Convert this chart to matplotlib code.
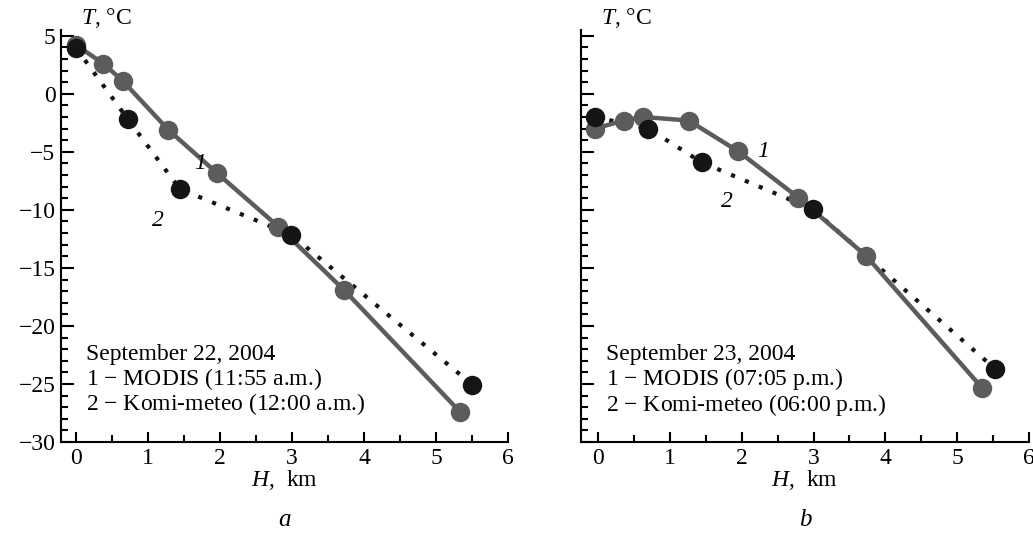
import matplotlib
matplotlib.use('Agg')
import matplotlib.pyplot as plt
from matplotlib.ticker import MultipleLocator

plt.rcParams['font.family'] = ['Liberation Serif', 'DejaVu Serif']
plt.rcParams['mathtext.fontset'] = 'custom'
plt.rcParams['mathtext.rm'] = 'Liberation Serif'
plt.rcParams['mathtext.it'] = 'Liberation Serif:italic'

# panel a: September 22, 2004
h_modis_a = [0.0, 0.38, 0.65, 1.28, 1.96, 2.81, 3.72, 5.33]
t_modis_a = [4.2, 2.6, 1.1, -3.1, -6.85, -11.45, -16.9, -27.4]
h_komi_a = [0.0, 0.72, 1.44, 2.99, 5.5]
t_komi_a = [3.95, -2.2, -8.2, -12.15, -25.05]

# panel b: September 23, 2004
h_modis_b = [-0.05, 0.36, 0.63, 1.26, 1.95, 2.79, 3.73, 5.35]
t_modis_b = [-3.0, -2.3, -2.0, -2.3, -4.95, -8.95, -13.95, -25.35]
h_komi_b = [-0.05, 0.70, 1.44, 2.99, 5.53]
t_komi_b = [-2.0, -3.0, -5.9, -9.95, -23.7]

notes_a = ['September 22, 2004', '$\\mathit{1}$ \u2212 MODIS (11:55 a.m.)',
           '$\\mathit{2}$ \u2212 Komi-meteo (12:00 a.m.)']
notes_b = ['September 23, 2004', '$\\mathit{1}$ \u2212 MODIS (07:05 p.m.)',
           '$\\mathit{2}$ \u2212 Komi-meteo (06:00 p.m.)']

FS = 17
gray = '#5c5c5c'
black = '#151515'

fig = plt.figure(figsize=(10.33, 5.45), dpi=100)
ax_a = fig.add_axes([0.059, 0.189, 0.433, 0.756])
ax_b = fig.add_axes([0.5624, 0.189, 0.4336, 0.756])


def draw(ax, hm, tm, hk, tk, notes, lab1, lab2, letter, xmin, show_y):
    ax.plot(hk, tk, color=black, lw=3, ls=(0, (1, 2.6)), zorder=2)
    ax.plot(hm, tm, color=gray, lw=3.2, zorder=3)
    ax.plot(hm, tm, ls='none', marker='o', ms=13, color=gray, zorder=4)
    ax.plot(hk, tk, ls='none', marker='o', ms=13, color=black, zorder=5)

    ax.set_xlim(xmin, 6)
    ax.set_ylim(-30, 5.5)
    for s in ['top', 'right']:
        ax.spines[s].set_visible(False)
    for s in ['left', 'bottom']:
        ax.spines[s].set_linewidth(1.5)

    ax.xaxis.set_major_locator(MultipleLocator(1))
    ax.xaxis.set_minor_locator(MultipleLocator(0.5))
    ax.yaxis.set_major_locator(MultipleLocator(5))
    ax.yaxis.set_minor_locator(MultipleLocator(1))
    ax.tick_params(axis='both', which='both', direction='in', width=1.5, labelsize=FS)
    ax.tick_params(axis='y', which='major', length=9, pad=4)
    ax.tick_params(axis='y', which='minor', length=5)
    ax.tick_params(axis='x', which='major', length=7, pad=4)
    ax.tick_params(axis='x', which='minor', length=5)
    if not show_y:
        ax.tick_params(axis='y', labelleft=False)

    ax.text(0.045, 1.0, '$T$, \u00b0C', transform=ax.transAxes, fontsize=FS,
            ha='left', va='bottom')
    ax.text(0.5, -0.092, '$H$,  km', transform=ax.transAxes, fontsize=FS,
            ha='center', va='center')
    ax.text(0.5, -0.19, letter, transform=ax.transAxes, fontsize=FS + 1,
            ha='center', va='center', style='italic')

    for i, line in enumerate(notes):
        ax.text(0.055, 0.213 - i * 0.061, line, transform=ax.transAxes,
                fontsize=FS, ha='left', va='center')

    ax.text(lab1[0], lab1[1], '1', fontsize=FS, style='italic', ha='center', va='center')
    ax.text(lab2[0], lab2[1], '2', fontsize=FS, style='italic', ha='center', va='center')


draw(ax_a, h_modis_a, t_modis_a, h_komi_a, t_komi_a, notes_a,
     (1.72, -6.0), (1.13, -10.9), 'a', -0.21, True)
draw(ax_b, h_modis_b, t_modis_b, h_komi_b, t_komi_b, notes_b,
     (2.3, -5.0), (1.8, -9.3), 'b', -0.24, False)

fig.savefig('out.png', dpi=100)
